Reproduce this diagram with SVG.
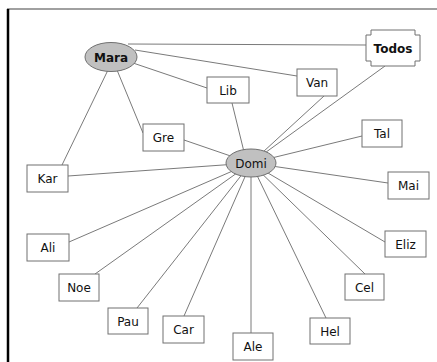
<svg xmlns="http://www.w3.org/2000/svg" width="437" height="362" viewBox="0 0 437 362">
<style>
.box{fill:#fff;stroke:#707070;stroke-width:1}
.ell{fill:#c0c0c0;stroke:#707070;stroke-width:1}
.lbl{font-family:"DejaVu Sans",Verdana,sans-serif;font-size:12px;fill:#111;text-anchor:middle}
.bold{font-weight:bold}
#edges line{stroke:#7a7a7a;stroke-width:1}
</style>
<rect width="437" height="362" fill="#fff"/>
<line x1="7" y1="9" x2="437" y2="9" stroke="#808080" stroke-width="1.5"/>
<line x1="8" y1="9" x2="8" y2="362" stroke="#000" stroke-width="2.5"/>
<g id="edges">
<line x1="128" y1="44" x2="366" y2="45"/>
<line x1="135" y1="50" x2="297" y2="76"/>
<line x1="133" y1="63" x2="207" y2="88"/>
<line x1="117" y1="70" x2="143" y2="133"/>
<line x1="108" y1="70" x2="62" y2="165"/>
<line x1="184" y1="140" x2="251" y2="163"/>
<line x1="68" y1="176" x2="251" y2="163"/>
<line x1="232" y1="103" x2="246" y2="160"/>
<line x1="324" y1="96" x2="251" y2="163"/>
<line x1="385" y1="66" x2="251" y2="163"/>
<line x1="362" y1="136" x2="251" y2="163"/>
<line x1="388" y1="183" x2="251" y2="163"/>
<line x1="385" y1="242" x2="251" y2="163"/>
<line x1="365" y1="274" x2="251" y2="163"/>
<line x1="326" y1="318" x2="251" y2="163"/>
<line x1="251" y1="333" x2="251" y2="163"/>
<line x1="184" y1="316" x2="251" y2="163"/>
<line x1="137" y1="308" x2="251" y2="163"/>
<line x1="95" y1="274" x2="251" y2="163"/>
<line x1="69" y1="242" x2="251" y2="163"/>
</g>
<g id="Mara"><ellipse class="ell" cx="111" cy="57" rx="26" ry="14.5"/><text class="lbl bold" x="111" y="61.5">Mara</text></g>
<g id="Domi"><ellipse class="ell" cx="251" cy="163" rx="25" ry="14"/><text class="lbl" x="251" y="167.5">Domi</text></g>
<g id="Todos"><path class="box" d="M371,30 H415 V35 H420 V61 H415 V66 H371 V61 H366 V35 H371 Z"/><text class="lbl bold" x="393" y="52.5">Todos</text></g>
<g id="Lib"><rect class="box" x="207" y="77" width="42" height="26"/><text class="lbl" x="228" y="94.5">Lib</text></g>
<g id="Gre"><rect class="box" x="143" y="124" width="41" height="27"/><text class="lbl" x="163.5" y="142">Gre</text></g>
<g id="Kar"><rect class="box" x="27" y="165" width="41" height="27"/><text class="lbl" x="47.5" y="183">Kar</text></g>
<g id="Van"><rect class="box" x="297" y="69" width="40" height="27"/><text class="lbl" x="317" y="87">Van</text></g>
<g id="Tal"><rect class="box" x="362" y="120" width="40" height="27"/><text class="lbl" x="382" y="138">Tal</text></g>
<g id="Mai"><rect class="box" x="388" y="172" width="41" height="27"/><text class="lbl" x="408.5" y="190">Mai</text></g>
<g id="Eliz"><rect class="box" x="385" y="231" width="41" height="26"/><text class="lbl" x="405.5" y="248.5">Eliz</text></g>
<g id="Cel"><rect class="box" x="345" y="274" width="39" height="26"/><text class="lbl" x="364.5" y="291.5">Cel</text></g>
<g id="Hel"><rect class="box" x="310" y="318" width="40" height="26"/><text class="lbl" x="330" y="335.5">Hel</text></g>
<g id="Ale"><rect class="box" x="233" y="333" width="40" height="27"/><text class="lbl" x="253" y="351">Ale</text></g>
<g id="Car"><rect class="box" x="163" y="316" width="41" height="27"/><text class="lbl" x="183.5" y="334">Car</text></g>
<g id="Pau"><rect class="box" x="108" y="308" width="40" height="26"/><text class="lbl" x="128" y="325.5">Pau</text></g>
<g id="Noe"><rect class="box" x="59" y="274" width="40" height="27"/><text class="lbl" x="79" y="292">Noe</text></g>
<g id="Ali"><rect class="box" x="27" y="234" width="42" height="27"/><text class="lbl" x="48" y="252">Ali</text></g>
</svg>
